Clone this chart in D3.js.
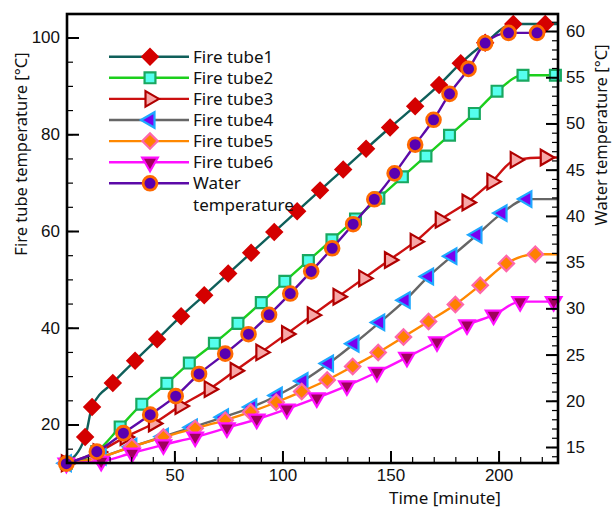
<!DOCTYPE html>
<html>
<head>
<meta charset="utf-8">
<script src="https://cdn.jsdelivr.net/npm/d3@7"></script>
<style>
  body { margin: 0; background: #fff; }
  text { fill: #111; }
</style>
</head>
<body>
<svg id="chart" width="616" height="509"></svg>
<script>
/* values (time in minutes, temperatures in °C) */
const tube1Time = [0, 8.7, 11.9, 21.5, 31.8, 42.0, 53.1, 63.8, 74.9, 85.5, 96.2, 106.8, 117.4, 128.1, 138.7, 149.8, 161.4, 172.5, 182.5, 193.8, 206.8, 221.6];
const tube1Temp = [12.0, 17.4, 23.6, 28.6, 33.2, 37.6, 42.4, 46.7, 51.2, 55.5, 59.8, 64.1, 68.4, 72.7, 77.0, 81.4, 85.8, 90.2, 94.7, 98.9, 102.8, 102.8];

const tube2Time = [0, 14.1, 24.9, 34.9, 46.5, 56.9, 68.5, 79.4, 90.2, 101.1, 112.0, 122.9, 133.8, 144.6, 155.5, 166.4, 177.3, 188.8, 199.3, 211.3, 226.3];
const tube2Temp = [12.0, 14.4, 19.5, 24.2, 28.5, 32.7, 36.8, 40.9, 45.2, 49.6, 53.9, 58.2, 62.5, 66.8, 71.2, 75.5, 79.8, 84.3, 88.9, 92.2, 92.2];

const tube3Time = [0, 14.7, 27.2, 40.3, 52.6, 66.1, 78.1, 90.0, 101.9, 113.8, 125.7, 137.6, 149.5, 161.4, 173.0, 185.4, 196.9, 207.7, 221.6];
const tube3Temp = [12.0, 14.3, 17.4, 20.2, 23.8, 27.3, 31.1, 34.9, 38.7, 42.6, 46.4, 50.2, 54.0, 57.8, 62.3, 65.9, 70.2, 74.7, 75.2];

const tube4Time = [0, 16.1, 30.3, 44.9, 58.3, 72.7, 85.8, 97.6, 109.5, 121.3, 133.1, 145.0, 156.8, 167.6, 178.4, 190.0, 201.6, 213.1];
const tube4Temp = [12.0, 13.3, 15.4, 17.5, 19.4, 21.5, 23.6, 26.0, 29.0, 32.6, 36.7, 41.1, 45.7, 50.6, 54.8, 59.2, 63.7, 66.6];

const tube5Time = [0, 15.1, 30.3, 44.9, 59.6, 73.5, 85.3, 97.1, 108.9, 120.7, 132.5, 144.3, 156.0, 167.6, 180.0, 191.5, 203.6, 217.0];
const tube5Temp = [12.0, 13.1, 15.4, 17.4, 19.2, 20.9, 22.6, 24.6, 26.8, 29.2, 32.0, 34.9, 38.1, 41.3, 44.8, 48.8, 53.3, 55.2];

const tube6Time = [0, 16.1, 30.4, 44.9, 59.6, 74.3, 88.1, 102.0, 115.9, 129.8, 143.7, 157.6, 171.5, 185.4, 197.7, 210.0, 225.5];
const tube6Temp = [12.0, 12.4, 14.1, 15.8, 17.4, 19.3, 21.1, 23.2, 25.5, 28.0, 30.8, 33.9, 37.1, 40.6, 42.6, 45.4, 45.4];

// water is read on the right axis
const waterTime = [0, 14.1, 26.4, 38.8, 50.6, 61.4, 73.5, 84.3, 93.8, 103.6, 113.3, 123.0, 132.7, 142.5, 151.9, 161.4, 169.9, 177.3, 186.1, 193.8, 204.6, 217.8];
const waterTemp = [13.2, 14.5, 16.5, 18.5, 20.5, 22.9, 25.1, 27.2, 29.3, 31.6, 34.0, 36.5, 39.1, 41.8, 44.6, 47.7, 50.4, 53.2, 55.9, 58.7, 59.8, 59.8];

const legendNames = ["Fire tube1", "Fire tube2", "Fire tube3", "Fire tube4", "Fire tube5", "Fire tube6", "Water|temperature"];
const xTicks = [50, 100, 150, 200];
const leftTicks = [20, 40, 60, 80, 100];
const rightTicks = [15, 20, 25, 30, 35, 40, 45, 50, 55, 60];
const lineEnd = 227.5; // fire tube lines run on to the frame

/* styles */
const styles = [
  { line: "#0f5f5a", fill: "#d40000", stroke: "#d40000", shape: "diamond" },
  { line: "#1ccf1c", fill: "#55ffee", stroke: "#18a860", shape: "square" },
  { line: "#cc1010", fill: "#f7a8a8", stroke: "#b00000", shape: "triRight" },
  { line: "#666666", fill: "#7a00f0", stroke: "#1ea8ff", shape: "triLeft" },
  { line: "#ff8800", fill: "#ff8000", stroke: "#ff66aa", shape: "diamond" },
  { line: "#ff10ff", fill: "#a0005c", stroke: "#ff10ff", shape: "triDown" },
  { line: "#5c0aa8", fill: "#5a00b0", stroke: "#ff6a00", shape: "circle" }
];

const svg = d3.select("#chart");
svg.append("rect").attr("width", 616).attr("height", 509).attr("fill", "#fff");

const x = d3.scaleLinear().domain([0.3, 227.5]).range([67, 558]);
const yL = d3.scaleLinear().domain([12.04, 104.86]).range([463, 14]);
const yR = d3.scaleLinear().domain([13.27, 61.84]).range([463, 14]);

function zip(ts, vs) { return ts.map((t, i) => ({ t: t, v: vs[i] })); }

const series = [
  { pts: zip(tube1Time, tube1Temp), y: yL, ext: true },
  { pts: zip(tube2Time, tube2Temp), y: yL, ext: true },
  { pts: zip(tube3Time, tube3Temp), y: yL, ext: true },
  { pts: zip(tube4Time, tube4Temp), y: yL, ext: true },
  { pts: zip(tube5Time, tube5Temp), y: yL, ext: true },
  { pts: zip(tube6Time, tube6Temp), y: yL, ext: true },
  { pts: zip(waterTime, waterTemp), y: yR, ext: false }
];

function symbolPath(shape) {
  if (shape === "diamond") return { d: d3.symbol(d3.symbolSquare, 118)(), rot: 45 };
  if (shape === "square") return { d: d3.symbol(d3.symbolSquare, 118)(), rot: 0 };
  if (shape === "circle") return { d: d3.symbol(d3.symbolCircle, 150)(), rot: 0 };
  const tri = d3.symbol(d3.symbolTriangle, 105)();
  if (shape === "triRight") return { d: tri, rot: 90 };
  if (shape === "triLeft") return { d: tri, rot: -90 };
  return { d: tri, rot: 180 };
}

function drawMarker(g, st, px, py) {
  const s = symbolPath(st.shape);
  g.append("path")
    .attr("d", s.d)
    .attr("transform", "translate(" + px + "," + py + ") rotate(" + s.rot + ")")
    .attr("fill", st.fill)
    .attr("stroke", st.stroke)
    .attr("stroke-width", st.shape === "circle" ? 2.8 : 2.2);
}

/* DATA */
const plot = svg.append("g");
series.forEach((s, i) => {
  const st = styles[i];
  const linePts = s.ext ? s.pts.concat([{ t: lineEnd, v: s.pts[s.pts.length - 1].v }]) : s.pts;
  const line = d3.line().x(d => x(d.t)).y(d => s.y(d.v)).curve(d3.curveMonotoneX);
  const g = plot.append("g");
  g.append("path").datum(linePts)
    .attr("d", line)
    .attr("fill", "none")
    .attr("stroke", st.line)
    .attr("stroke-width", 2.4);
  s.pts.forEach(p => drawMarker(g, st, x(p.t), s.y(p.v)));
});

/* AXES */
const tickFont = "'Liberation Sans', Arial, sans-serif";
function styleAxis(g) {
  g.select(".domain").remove();
  g.selectAll("line").attr("stroke", "#000").attr("stroke-width", 2);
  g.selectAll("text").attr("font-family", tickFont).attr("font-size", 17).attr("fill", "#111");
}
function minor(g) {
  g.select(".domain").remove();
  g.selectAll("line").attr("stroke", "#000").attr("stroke-width", 1.2);
}

svg.append("g").attr("transform", "translate(0,463)")
  .call(d3.axisBottom(x).tickValues(d3.range(10, 227, 10)).tickSize(-6).tickFormat("")).call(minor);
svg.append("g").attr("transform", "translate(0,463)")
  .call(d3.axisBottom(x).tickValues(xTicks).tickSize(-12).tickPadding(6)).call(styleAxis);

svg.append("g").attr("transform", "translate(67,0)")
  .call(d3.axisLeft(yL).tickValues(d3.range(15, 105, 5)).tickSize(-6).tickFormat("")).call(minor);
svg.append("g").attr("transform", "translate(67,0)")
  .call(d3.axisLeft(yL).tickValues(leftTicks).tickSize(-12).tickPadding(7)).call(styleAxis);

svg.append("g").attr("transform", "translate(558,0)")
  .call(d3.axisRight(yR).tickValues(d3.range(14, 62, 1)).tickSize(-6).tickFormat("")).call(minor);
svg.append("g").attr("transform", "translate(558,0)")
  .call(d3.axisRight(yR).tickValues(rightTicks).tickSize(-12).tickPadding(8)).call(styleAxis);

// frame
svg.append("rect")
  .attr("x", 67).attr("y", 14).attr("width", 491).attr("height", 449)
  .attr("fill", "none").attr("stroke", "#000").attr("stroke-width", 2.6);

/* TITLES */
const titleFont = "'Noto Sans', 'Open Sans', sans-serif";
svg.append("text")
  .attr("transform", "translate(27,154) rotate(-90)")
  .attr("text-anchor", "middle")
  .attr("font-family", titleFont).attr("font-size", 16.5)
  .text("Fire tube temperature [°C]");
svg.append("text")
  .attr("transform", "translate(607,135) rotate(-90)")
  .attr("text-anchor", "middle")
  .attr("font-family", titleFont).attr("font-size", 16.5)
  .text("Water temperature [°C]");
svg.append("text")
  .attr("x", 445).attr("y", 504)
  .attr("text-anchor", "middle")
  .attr("font-family", titleFont).attr("font-size", 17)
  .text("Time [minute]");

/* LEGEND */
const legend = svg.append("g");
legendNames.forEach((name, i) => {
  const st = styles[i];
  const ly = 56.7 + i * 21.1;
  legend.append("line")
    .attr("x1", 109).attr("x2", 189).attr("y1", ly).attr("y2", ly)
    .attr("stroke", st.line).attr("stroke-width", 2.4);
  drawMarker(legend, st, 150, ly);
  name.split("|").forEach((part, k) => {
    legend.append("text")
      .attr("x", 193).attr("y", ly + 6 + k * 21.7)
      .attr("font-family", titleFont).attr("font-size", 17)
      .text(part);
  });
});
</script>
</body>
</html>
